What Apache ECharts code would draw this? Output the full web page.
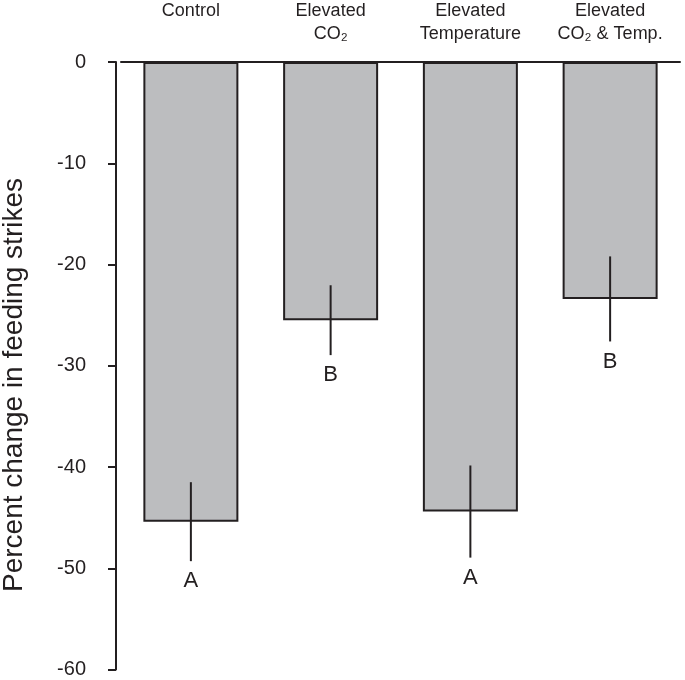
<!DOCTYPE html>
<html>
<head>
<meta charset="utf-8">
<script src="https://cdn.jsdelivr.net/npm/echarts@6/dist/echarts.min.js"></script>
<style>
  html, body { margin: 0; padding: 0; background: #fff; }
  #main { width: 685px; height: 680px; }
</style>
</head>
<body>
<div id="main"></div>
<script>
const categories = ['Control', 'Elevated\nCO\u2082', 'Elevated\nTemperature', 'Elevated\nCO\u2082 & Temp.'];
const means = [-45.4, -25.5, -44.4, -23.4];
const errors = [3.9, 3.45, 4.55, 4.2];
const letters = ['A', 'B', 'A', 'B'];
const yTicks = [0, -10, -20, -30, -40, -50, -60];

const ink = '#231f20';
const font = '"Liberation Sans", Arial, Helvetica, sans-serif';

const chart = echarts.init(document.getElementById('main'));

const option = {
  animation: false,
  backgroundColor: '#fff',
  textStyle: { fontFamily: font, color: ink },
  grid: { left: 121, right: 5, top: 60, bottom: 10.5 },
  xAxis: {
    type: 'category',
    position: 'top',
    data: categories,
    axisLine: { show: true, onZero: false, lineStyle: { color: ink, width: 2 } },
    axisTick: { show: false },
    axisLabel: {
      color: ink,
      fontFamily: font,
      fontSize: 18,
      lineHeight: 23,
      verticalAlign: 'top',
      margin: 62,
      interval: 0
    }
  },
  yAxis: {
    type: 'value',
    min: -60,
    max: 0,
    interval: 10,
    offset: 5,
    axisLine: { show: true, lineStyle: { color: ink, width: 2 } },
    axisTick: { show: true, length: 8, lineStyle: { color: ink, width: 2 } },
    axisLabel: {
      color: ink,
      fontFamily: font,
      fontSize: 20,
      margin: 30,
      formatter: v => (yTicks.indexOf(v) >= 0 ? String(v) : '')
    },
    splitLine: { show: false }
  },
  graphic: [{
    type: 'text',
    x: 14,
    y: 385,
    rotation: Math.PI / 2,
    style: {
      text: 'Percent change in feeding strikes',
      fill: ink,
      font: '28px ' + font,
      textAlign: 'center',
      textVerticalAlign: 'middle'
    }
  }],
  series: [
    {
      type: 'bar',
      data: means,
      barWidth: 95,
      itemStyle: { color: '#bcbdbf', borderColor: ink, borderWidth: 2 }
    },
    {
      type: 'custom',
      data: means.map((m, i) => [i, m, errors[i]]),
      z: 5,
      renderItem: function (params, api) {
        const i = api.value(0);
        const m = api.value(1);
        const e = api.value(2);
        const top = api.coord([i, m + e]);
        const bot = api.coord([i, m - e]);
        return {
          type: 'group',
          children: [
            {
              type: 'line',
              shape: { x1: top[0], y1: top[1], x2: bot[0], y2: bot[1] },
              style: { stroke: ink, lineWidth: 2 }
            },
            {
              type: 'text',
              x: bot[0],
              y: bot[1] + 20,
              style: {
                text: letters[params.dataIndex],
                fill: ink,
                font: '22px ' + font,
                textAlign: 'center',
                textVerticalAlign: 'middle'
              }
            }
          ]
        };
      }
    }
  ]
};

chart.setOption(option);
</script>
</body>
</html>
